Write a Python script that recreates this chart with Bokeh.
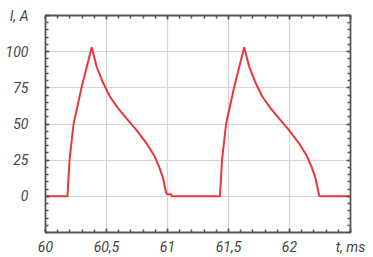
from bokeh.plotting import figure
from bokeh.models import LinearAxis, FixedTicker, Range1d
from bokeh.embed import file_html
from bokeh.resources import INLINE

# Current pulses (t in ms, I in A)
t_vals = [60.0, 60.18, 60.197, 60.23, 60.295, 60.379,
          60.419, 60.473, 60.527, 60.594, 60.662, 60.744, 60.825, 60.892,
          60.933, 60.965, 60.987, 60.995, 61.03, 61.035,
          61.43, 61.447, 61.48, 61.545, 61.629,
          61.669, 61.723, 61.777, 61.844, 61.912, 61.994, 62.075, 62.142,
          62.183, 62.215, 62.237, 62.245, 62.5]
i_vals = [0, 0, 25, 50, 75, 103,
          89.7, 78.3, 69, 61, 54, 46, 37, 28,
          20, 12, 3, 1.5, 1.5, 0,
          0, 25, 50, 75, 103,
          89.7, 78.3, 69, 61, 54, 46, 37, 28,
          20, 12, 3, 0, 0]

x_ticks = [60, 60.5, 61, 61.5, 62, 62.5]
x_labels = ["60", "60,5", "61", "61,5", "62", "t, ms"]
y_ticks = [0, 25, 50, 75, 100, 125]
y_labels = ["0", "25", "50", "75", "100", "I, A"]

x_minor = [60.0, 60.1, 60.2, 60.3, 60.4, 60.5, 60.6, 60.7, 60.8, 60.9, 61.0,
           61.1, 61.2, 61.3, 61.4, 61.5, 61.6, 61.7, 61.8, 61.9, 62.0,
           62.1, 62.2, 62.3, 62.4, 62.5]
y_minor = list(range(-25, 126, 5))

p = figure(width=373, height=257, output_backend="svg", toolbar_location=None,
           x_range=Range1d(60, 62.5), y_range=Range1d(-25, 125),
           x_axis_location=None, y_axis_location=None,
           min_border_left=45, min_border_right=23, min_border_top=15, min_border_bottom=25)
p.background_fill_color = "white"
p.border_fill_color = "white"
p.outline_line_color = "#555555"
p.outline_line_width = 1.8

xt = FixedTicker(ticks=x_ticks, minor_ticks=x_minor)
yt = FixedTicker(ticks=y_ticks, minor_ticks=y_minor)

def style(ax, show_labels):
    ax.axis_line_color = None
    ax.major_tick_in = 4
    ax.major_tick_out = 0
    ax.minor_tick_in = 3
    ax.minor_tick_out = 0
    ax.major_tick_line_color = "#555555"
    ax.minor_tick_line_color = "#555555"
    ax.major_tick_line_width = 1.5
    ax.minor_tick_line_width = 1.5
    ax.major_label_text_font = "Roboto"
    ax.major_label_text_font_style = "italic"
    ax.major_label_text_font_size = "14px"
    if show_labels:
        ax.major_label_text_color = "#454545"
    else:
        ax.major_label_text_color = None
        ax.major_label_standoff = 0

xb = LinearAxis(ticker=xt, major_label_overrides=dict(zip(x_ticks, x_labels)))
style(xb, True)
xb.major_label_standoff = 6
p.add_layout(xb, "below")
yl = LinearAxis(ticker=yt, major_label_overrides=dict(zip(y_ticks, y_labels)))
style(yl, True)
yl.major_label_standoff = 17
p.add_layout(yl, "left")
xa = LinearAxis(ticker=xt)
style(xa, False)
p.add_layout(xa, "above")
yr = LinearAxis(ticker=yt)
style(yr, False)
p.add_layout(yr, "right")

p.xgrid.ticker = xt
p.ygrid.ticker = yt
p.grid.grid_line_color = "#d4d4d4"
p.grid.grid_line_width = 1.2

p.line(t_vals, i_vals, line_color="#e8383a", line_width=2)

open("out.html", "w").write(file_html(p, INLINE))
